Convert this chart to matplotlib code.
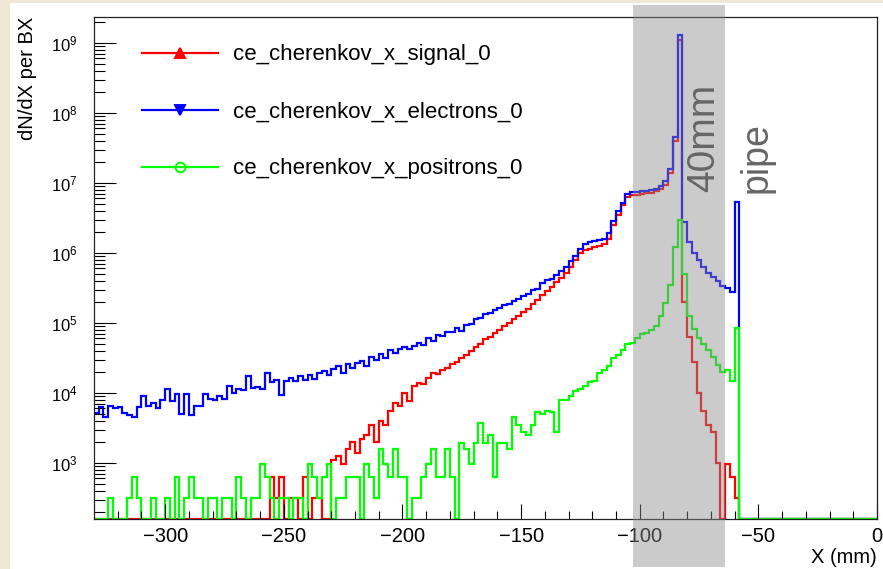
import numpy as np
import matplotlib.pyplot as plt
import matplotlib.transforms as mtransforms
from matplotlib.patches import Rectangle
from matplotlib.lines import Line2D

plt.rcParams['font.family'] = ['Liberation Sans', 'DejaVu Sans']

# 2 mm bins from -330 to -58, then one empty bin up to 0
x_edges = np.append(np.arange(-330, -57, 2), 0)

# dN/dX per BX (one value per bin, left to right)
signal = [
    0, 0, 0, 0, 0, 0, 0, 0, 0, 0,
    0, 0, 0, 0, 0, 0, 0, 0, 0, 0,
    0, 0, 0, 0, 0, 0, 0, 0, 0, 0,
    0, 0, 0, 0, 0, 0, 0, 630, 320, 630,
    0, 320, 320, 0, 630, 0, 320, 320, 0, 0,
    1100, 1260, 950, 1600, 2000, 1400, 2200, 2500, 3500, 2000,
    4000, 3500, 5600, 7100, 6600, 1.0e4, 7600, 1.26e4, 1.38e4, 1.32e4,
    1.66e4, 1.9e4, 1.86e4, 2.1e4, 2.24e4, 2.6e4, 2.8e4, 3.2e4, 3.5e4, 4.0e4,
    4.6e4, 5.0e4, 5.8e4, 6.3e4, 7.2e4, 7.9e4, 8.9e4, 1.0e5, 1.12e5, 1.26e5,
    1.41e5, 1.58e5, 1.86e5, 2.1e5, 2.5e5, 2.9e5, 3.3e5, 3.8e5, 4.4e5, 5.2e5,
    6.3e5, 7.9e5, 1.0e6, 1.1e6, 1.15e6, 1.2e6, 1.26e6, 1.35e6, 1.6e6, 2.5e6,
    3.5e6, 4.8e6, 6.3e6, 6.8e6, 6.8e6, 6.9e6, 7.1e6, 7.2e6, 7.6e6, 8.1e6,
    9.5e6, 1.4e7, 4.0e7, 1.1e9, 2.0e5, 6.3e4, 2.8e4, 1.0e4, 5600, 3500,
    2800, 1000, 0, 950, 630, 320, 0,
]
electrons = [
    5.2e3, 6.3e3, 4.5e3, 6.6e3, 6.0e3, 6.3e3, 5.2e3, 4.8e3, 4.6e3, 6.3e3,
    8.9e3, 6.6e3, 7.1e3, 6.0e3, 7.9e3, 1.12e4, 7.6e3, 9.5e3, 5.0e3, 9.5e3,
    4.8e3, 6.6e3, 6.6e3, 9.5e3, 8.3e3, 7.9e3, 9.1e3, 8.3e3, 1.26e4, 1.0e4,
    1.12e4, 1.1e4, 1.74e4, 1.17e4, 1.2e4, 1.15e4, 1.95e4, 1.45e4, 1.51e4, 9.3e3,
    1.48e4, 1.62e4, 1.5e4, 1.72e4, 1.55e4, 1.82e4, 1.58e4, 1.95e4, 2.05e4, 1.8e4,
    2.2e4, 2.4e4, 1.95e4, 2.55e4, 2.25e4, 2.7e4, 2.9e4, 2.45e4, 3.3e4, 2.95e4,
    3.6e4, 3.2e4, 4.1e4, 3.7e4, 4.3e4, 4.5e4, 4.2e4, 4.7e4, 5.1e4, 4.9e4,
    6.1e4, 5.6e4, 6.7e4, 6.6e4, 7.4e4, 7.3e4, 8.5e4, 7.7e4, 9.3e4, 9.8e4,
    1.12e5, 1.16e5, 1.35e5, 1.4e5, 1.54e5, 1.62e5, 1.78e5, 1.86e5, 2.05e5, 2.2e5,
    2.45e5, 2.6e5, 2.95e5, 3.1e5, 3.7e5, 4.17e5, 4.3e5, 4.85e5, 5.5e5, 6.3e5,
    7.6e5, 9.1e5, 1.15e6, 1.35e6, 1.41e6, 1.48e6, 1.51e6, 1.58e6, 1.9e6, 2.88e6,
    3.98e6, 5.25e6, 6.9e6, 7.4e6, 7.4e6, 7.6e6, 7.8e6, 7.9e6, 8.3e6, 8.9e6,
    1.05e7, 1.58e7, 4.6e7, 1.29e9, 2.8e6, 1.41e6, 1.0e6, 7.9e5, 6.3e5, 5.2e5,
    4.6e5, 4.0e5, 3.4e5, 3.2e5, 2.75e5, 5.4e6, 0,
]
positrons = [
    0, 0, 0, 320, 0, 0, 0, 320, 630, 320,
    0, 0, 320, 0, 0, 320, 0, 630, 0, 320,
    630, 320, 320, 0, 320, 320, 0, 320, 320, 0,
    630, 320, 0, 320, 320, 950, 630, 320, 0, 320,
    320, 0, 320, 320, 0, 950, 630, 320, 630, 950,
    0, 320, 320, 630, 630, 630, 0, 950, 630, 320,
    1600, 950, 630, 1600, 630, 630, 0, 320, 320, 630,
    950, 1600, 630, 630, 1600, 630, 0, 1900, 1600, 950,
    1900, 3700, 1900, 2500, 630, 1900, 1900, 1600, 4500, 3500,
    2800, 2500, 3500, 5400, 5000, 5600, 5400, 2800, 7900, 7900,
    8900, 1.07e4, 1.14e4, 1.26e4, 1.41e4, 1.5e4, 1.9e4, 2.1e4, 2.45e4, 3.2e4,
    3.5e4, 4.1e4, 5.0e4, 5.2e4, 6.0e4, 6.9e4, 7.2e4, 7.9e4, 9.1e4, 1.26e5,
    1.9e5, 3.5e5, 1.2e6, 2.95e6, 5.0e5, 1.26e5, 8.3e4, 6.0e4, 5.0e4, 4.1e4,
    3.3e4, 2.5e4, 2.0e4, 2.1e4, 1.5e4, 8.5e4, 0,
]

labels = ['ce_cherenkov_x_signal_0', 'ce_cherenkov_x_electrons_0',
          'ce_cherenkov_x_positrons_0']
colors = ['#ff0000', '#0000ff', '#00ff00']
markers = ['^', 'v', 'o']
x_ticks = [-300, -250, -200, -150, -100, -50, 0]
y_ticks = [1e3, 1e4, 1e5, 1e6, 1e7, 1e8, 1e9]

y_min, y_max = 158, 2.35e9
band = (-103, -64)

fig = plt.figure(figsize=(8.83, 5.69), dpi=100, facecolor='#efe6d6')
# white canvas on the beige page
fig.add_artist(Rectangle((10 / 883, 0), 1, (566 / 569), transform=fig.transFigure,
                         facecolor='white', edgecolor='none', zorder=-5))
ax = fig.add_axes([94 / 883, 50 / 569, 783 / 883, 502 / 569])

for vals, c in zip([signal, electrons, positrons], colors):
    v = np.maximum(np.array(vals, dtype=float), y_min)
    ax.stairs(v, x_edges, color=c, linewidth=1.6, baseline=None)

ax.set_yscale('log')
ax.set_xlim(-330, 0)
ax.set_ylim(y_min, y_max)
ax.set_xticks(x_ticks)
ax.set_xticks(np.arange(-320, 1, 10), minor=True)
ax.set_yticks(y_ticks)
ax.tick_params(which='both', direction='in', top=False, right=False, width=0.8)
ax.tick_params(axis='y', which='major', length=16, labelsize=12, pad=12)
ax.tick_params(axis='y', which='minor', length=8)
ax.tick_params(axis='x', which='major', length=11, labelsize=14.5, pad=6)
ax.tick_params(axis='x', which='minor', length=5.5)
for s in ax.spines.values():
    s.set_linewidth(0.9)
    s.set_color('#222222')

ax.set_ylabel('dN/dX per BX', fontsize=14.5, loc='top')
ax.yaxis.set_label_coords(-0.073, 1.0)
ax.set_xlabel('X (mm)', fontsize=14.5, loc='right', labelpad=1)

handles = [Line2D([], [], color=c, marker=m, markersize=7, linewidth=1.6,
                  markerfacecolor=('none' if m == 'o' else c), markeredgewidth=1.4)
           for c, m in zip(colors, markers)]
ax.legend(handles, labels, loc='upper left', bbox_to_anchor=(0.05, 0.963),
          frameon=False, fontsize=16, handlelength=3.4, handletextpad=0.7,
          labelspacing=1.62, borderaxespad=0)

# shaded 40 mm region, drawn over the plot like in the original
tr = mtransforms.blended_transform_factory(ax.transData, fig.transFigure)
fig.add_artist(Rectangle((band[0], 2 / 569), band[1] - band[0], 562 / 569,
                         transform=tr, facecolor='#8c8c8c', edgecolor='none',
                         alpha=0.45, zorder=5))
fig.add_artist(plt.Text(-72.7, 4.4e7, '40mm', rotation=90, ha='center', va='center',
                        fontsize=28, color='#666666', transform=ax.transData,
                        zorder=6, family=['Liberation Sans', 'DejaVu Sans']))
fig.add_artist(plt.Text(-50.8, 2.3e7, 'pipe', rotation=90, ha='center', va='center',
                        fontsize=27, color='#666666', transform=ax.transData,
                        zorder=6, family=['Liberation Sans', 'DejaVu Sans']))

fig.savefig('out.png', dpi=100, facecolor=fig.get_facecolor())
